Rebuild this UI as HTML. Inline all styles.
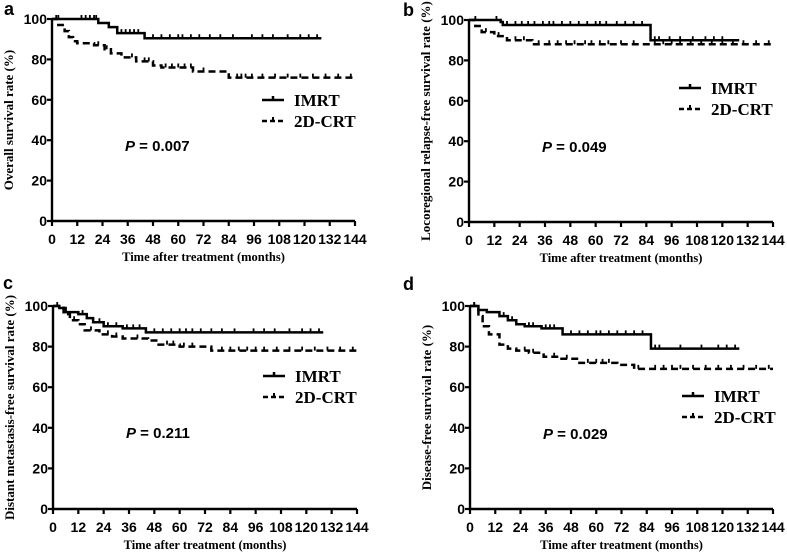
<!DOCTYPE html>
<html><head><meta charset="utf-8"><style>
body{margin:0;background:#fff}
svg{display:block}
.tk{font-family:"Liberation Sans",sans-serif;font-weight:bold}
.sf{font-family:"Liberation Serif",serif;font-weight:bold}
</style></head><body>
<svg id="fig" width="787" height="553" xmlns="http://www.w3.org/2000/svg"></svg>
<script>
// Panel A: overall survival
const aImrtT=[0,22,27,31,44,128];
const aImrtS=[100,98,96,93,90.5,90.5];
const aImrtC=[3,14,16,18,20,21,33,35,37,39,41,48,52,56,60,62,66,70,75,80,86,95,100,105,112,118,122,126];
const a2dT=[0,3,6,8,10,12,20,25,28,33,40,48,52,67,84,144];
const a2dS=[100,97,94,91,89,88,87,85,83,81,79,77,76,74,71,71];
const a2dC=[2,22,26,38,44,46,54,57,60,63,66,72,88,90,92,95,100,106,112,118,124,130,136,142];
// Panel B: locoregional relapse-free
const bImrtT=[0,15,16,86,128];
const bImrtS=[100,99,97.5,90,90];
const bImrtC=[3,13,18,22,25,28,31,35,38,40,44,48,52,56,60,62,65,70,74,78,82,88,90,95,100,106,112,116,120];
const b2dT=[0,3,6,12,18,30,144];
const b2dS=[100,97,94,92,90,88,88];
const b2dC=[8,14,22,26,33,38,42,46,50,55,58,62,66,72,78,88,92,96,100,105,110,115,120,125,130,136,142];
// Panel C: distant metastasis-free
const cImrtT=[0,3,6,12,16,19,24,33,44,128];
const cImrtS=[100,99,97,96,94,92,90,89,87,87];
const cImrtC=[2,14,22,26,30,35,38,41,48,52,56,60,63,66,70,75,80,86,95,100,105,112,118,122,126];
const c2dT=[0,5,8,12,15,22,28,33,45,50,60,75,144];
const c2dS=[100,96,93,91,88,86,85,84,83,81,80,78,78];
const c2dC=[10,18,26,30,40,54,57,62,66,80,84,88,92,96,100,106,112,118,124,130,136,142];
// Panel D: disease-free
const dImrtT=[0,4,8,14,18,22,26,34,44,86,128];
const dImrtS=[100,98,97,95,93,91,90,89,86,79,79];
const dImrtC=[2,16,20,28,30,36,38,40,48,52,56,60,62,66,70,74,78,82,88,90,100,110,118,122,126];
const d2dT=[0,4,6,9,14,18,22,28,35,42,52,70,78,144];
const d2dS=[100,95,90,86,81,79,78,77,75,74,72,71,69,69];
const d2dC=[2,26,30,40,46,56,60,63,66,80,88,92,96,100,106,112,118,124,130,136,142];
const xTicks=[0,12,24,36,48,60,72,84,96,108,120,132,144];
const yTicks=[0,20,40,60,80,100];

const panels=[
 {id:'a',x0:52,x1:355,y0:221,y1:19,letter:[4,15],yl:'Overall survival rate (%)',P:'0.007',pp:[125,151],lg:[262,100],
  imT:aImrtT,imS:aImrtS,imC:aImrtC,cT:a2dT,cS:a2dS,cC:a2dC},
 {id:'b',x0:469,x1:773,y0:222,y1:20,letter:[403,16],yl:'Locoregional relapse-free survival rate (%)',P:'0.049',pp:[542,152],lg:[679,88],
  imT:bImrtT,imS:bImrtS,imC:bImrtC,cT:b2dT,cS:b2dS,cC:b2dC},
 {id:'c',x0:53,x1:357,y0:509,y1:306,letter:[3,289],yl:'Distant metastasis-free survival rate (%)',P:'0.211',pp:[126,438],lg:[263,376],
  imT:cImrtT,imS:cImrtS,imC:cImrtC,cT:c2dT,cS:c2dS,cC:c2dC},
 {id:'d',x0:470,x1:773,y0:509,y1:306,letter:[403,290],yl:'Disease-free survival rate (%)',P:'0.029',pp:[543,439],lg:[682,396],
  imT:dImrtT,imS:dImrtS,imC:dImrtC,cT:d2dT,cS:d2dS,cC:d2dC}
];
const NS='http://www.w3.org/2000/svg';
const svg=document.getElementById('fig');
function mk(tag,attrs,parent,txt){const e=document.createElementNS(NS,tag);for(const k in attrs)e.setAttribute(k,attrs[k]);if(txt!==undefined)e.textContent=txt;parent.appendChild(e);return e;}
function stepAt(T,S,t){let v=S[0];for(let i=0;i<T.length;i++){if(T[i]<=t)v=S[i];}return v;}
panels.forEach(p=>{
 const g=mk('g',{},svg);
 
 
 const X=t=>p.x0+(p.x1-p.x0)*t/144, Y=v=>p.y0+(p.y1-p.y0)*v/100;
 const lt=mk('text',{x:p.letter[0],y:p.letter[1],class:'tk',style:'font-size:18px'},g,p.id);
 
 
 const ax=mk('path',{d:`M${p.x0},${Y(100)}V${p.y0}H${p.x1}`,stroke:'#000','stroke-width':2.4,fill:'none'},g);
 
 
 xTicks.forEach(t=>{
  mk('line',{x1:X(t),x2:X(t),y1:p.y0,y2:p.y0+5,stroke:'#000','stroke-width':2.2},g);
  const tl=mk('text',{x:X(t),y:p.y0+23,class:'tk','text-anchor':'middle',style:'font-size:14px'},g,t);
  
  
 });
 yTicks.forEach(v=>{
  mk('line',{x1:p.x0-5,x2:p.x0,y1:Y(v),y2:Y(v),stroke:'#000','stroke-width':2.2},g);
  const tl=mk('text',{x:p.x0-5,y:Y(v)+5,class:'tk','text-anchor':'end',style:'font-size:14px'},g,v);
  
  
 });
 const xt=mk('text',{x:(p.x0+p.x1)/2,y:p.y0+40,class:'sf','text-anchor':'middle',style:'font-size:12.5px'},g,'Time after treatment (months)');
 
 
 const yc=(p.y0+p.y1)/2;
 const yt=mk('text',{x:0,y:0,class:'sf','text-anchor':'middle',style:'font-size:13px',transform:`translate(${p.x0-39},${yc}) rotate(-90)`},g,p.yl);
 
 
 function curve(T,S,C,dash,name){
  let d=`M${X(T[0])},${Y(S[0])}`;
  for(let i=1;i<T.length;i++){d+=`H${X(T[i])}V${Y(S[i])}`;}
  const c=mk('path',{d:d,stroke:'#000','stroke-width':2.5,fill:'none'},g);
  if(dash)c.setAttribute('stroke-dasharray','7 4');
  
  
  let cd='';
  C.forEach(t=>{const y=Y(stepAt(T,S,t));cd+=`M${X(t)},${y}v-4`;});
  const cm=mk('path',{d:cd,stroke:'#000','stroke-width':1.8,fill:'none'},g);
  
  
 }
 curve(p.imT,p.imS,p.imC,false,'imrt-curve');
 curve(p.cT,p.cS,p.cC,true,'2dcrt-curve');
 const [lx,ly]=p.lg;
 const l1=mk('g',{},g);
 
 
 mk('path',{d:`M${lx},${ly}h22M${lx+11},${ly}v-4`,stroke:'#000','stroke-width':2.5},l1);
 mk('text',{x:lx+32,y:ly+6,class:'sf',style:'font-size:17px'},l1,'IMRT');
 const l2=mk('g',{},g);
 
 
 mk('path',{d:`M${lx},${ly+21}h22`,stroke:'#000','stroke-width':2.5,'stroke-dasharray':'5 3'},l2);
 mk('path',{d:`M${lx+11},${ly+21}v-4`,stroke:'#000','stroke-width':2},l2);
 mk('text',{x:lx+32,y:ly+27,class:'sf',style:'font-size:17px'},l2,'2D-CRT');
 const pt=mk('text',{x:p.pp[0],y:p.pp[1],class:'tk',style:'font-size:15px'},g);
 
 
 mk('tspan',{'font-style':'italic'},pt,'P');
 mk('tspan',{},pt,' = '+p.P);
});
</script>
</body></html>
